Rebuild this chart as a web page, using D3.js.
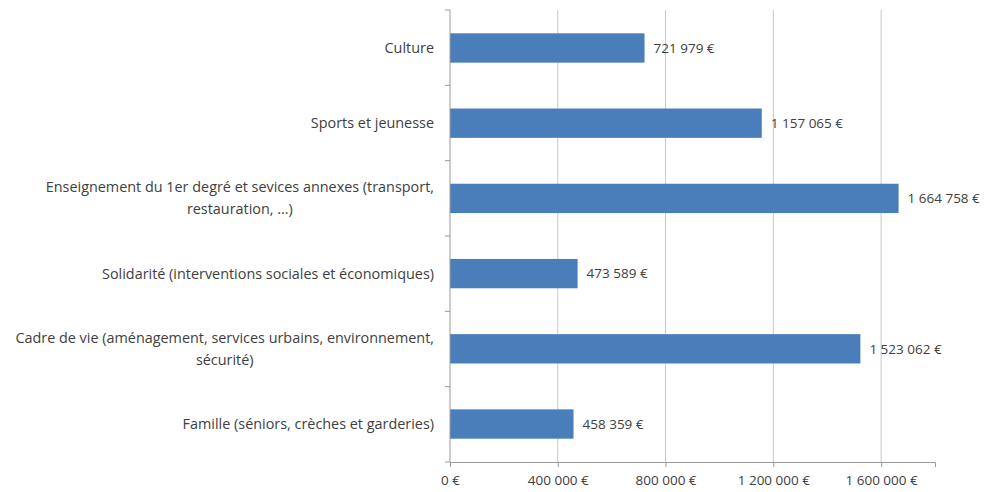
<!DOCTYPE html>
<html>
<head>
<meta charset="utf-8">
<script src="https://cdn.jsdelivr.net/npm/d3@7"></script>
<style>
  html, body { margin: 0; padding: 0; background: #fff; }
  svg { display: block; }
  text { font-family: "Open Sans", "Liberation Sans", sans-serif; fill: #404040; }
</style>
</head>
<body>
<svg id="chart" width="987" height="492"></svg>
<script>
// Budget lines, top to bottom
const categories = [
  ["Culture"],
  ["Sports et jeunesse"],
  ["Enseignement du 1er degré et sevices annexes (transport,", "restauration, ...)"],
  ["Solidarité (interventions sociales et économiques)"],
  ["Cadre de vie (aménagement, services urbains, environnement,", "sécurité)"],
  ["Famille (séniors, crèches et garderies)"]
];
const amounts = [721979, 1157065, 1664758, 473589, 1523062, 458359];
const tickValues = [0, 400000, 800000, 1200000, 1600000];
const axisMax = 1800000;

const svg = d3.select("#chart");
const margin = { top: 10, left: 450, right: 52 };
const W = 987;
const plotBottom = 462;

const fr = d3.formatLocale({ decimal: ",", thousands: "\u00a0", grouping: [3], currency: ["", "\u00a0€"] });
const euro = v => fr.format(",")(v) + "\u00a0€";

const x = d3.scaleLinear().domain([0, axisMax]).range([margin.left, W - margin.right]);
const y = d3.scaleBand().domain(d3.range(categories.length)).range([margin.top, plotBottom]).paddingInner(0.61).paddingOuter(0.31);

// vertical gridlines
svg.append("g").selectAll("line").data(tickValues.filter(d => d > 0)).join("line")
  .attr("x1", d => x(d)).attr("x2", d => x(d))
  .attr("y1", margin.top).attr("y2", plotBottom)
  .attr("stroke", "#c8c8c8").attr("stroke-width", 1);

// bars
svg.append("g").selectAll("rect").data(amounts).join("rect")
  .attr("x", x(0))
  .attr("y", (d, i) => y(i))
  .attr("width", d => x(d) - x(0))
  .attr("height", y.bandwidth())
  .attr("fill", "#4a7ebb");

// value labels
svg.append("g").selectAll("text").data(amounts).join("text")
  .attr("x", d => x(d) + 9)
  .attr("y", (d, i) => y(i) + y.bandwidth() / 2)
  .attr("dy", "0.35em")
  .attr("font-size", 13.5)
  .text(d => euro(d));

// x axis
const xAxis = svg.append("g").attr("transform", `translate(0,${plotBottom})`)
  .call(d3.axisBottom(x).tickValues(tickValues).tickSize(5).tickFormat(euro));
xAxis.select(".domain").attr("stroke", "#9a9a9a");
xAxis.selectAll(".tick line").attr("stroke", "#9a9a9a");
xAxis.selectAll(".tick text").attr("font-size", 13.5).attr("fill", "#404040").attr("dy", "1.1em")
  .style("font-family", "'Open Sans', sans-serif");

// y axis with ticks at band boundaries
const bounds = d3.range(categories.length + 1).map(i => margin.top + i * (plotBottom - margin.top) / categories.length);
svg.append("line").attr("x1", x(0)).attr("x2", x(0)).attr("y1", margin.top).attr("y2", plotBottom)
  .attr("stroke", "#9a9a9a");
svg.append("g").selectAll("line").data(bounds).join("line")
  .attr("x1", x(0) - 5).attr("x2", x(0)).attr("y1", d => d).attr("y2", d => d)
  .attr("stroke", "#9a9a9a");

// category labels: right-aligned block, lines centred within it
const labelRight = 434;
const lineGap = 22;
categories.forEach((lines, i) => {
  const cy = y(i) + y.bandwidth() / 2;
  const g = svg.append("g");
  const texts = lines.map((t, k) => g.append("text")
    .attr("font-size", 14.4)
    .attr("y", cy + (k - (lines.length - 1) / 2) * lineGap)
    .attr("dy", "0.35em")
    .text(t));
  const wMax = d3.max(texts, t => t.node().getComputedTextLength());
  texts.forEach(t => t.attr("text-anchor", "middle").attr("x", labelRight - wMax / 2));
});
</script>
</body>
</html>
